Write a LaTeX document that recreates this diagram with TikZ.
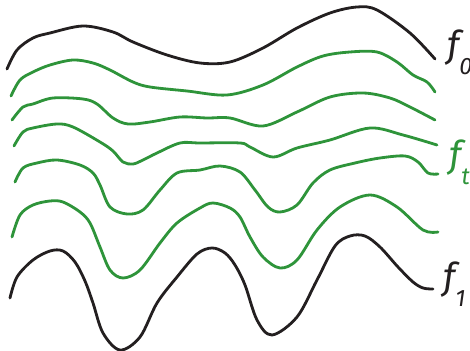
\documentclass[tikz,border=0pt]{standalone}
\usepackage{fontspec}
\setmainfont{Fira Sans}
\usepackage{tikz}
\definecolor{curvegreen}{RGB}{46,148,58}
\definecolor{curveblack}{RGB}{35,31,32}
\newcommand\fsub[1]{f\raisebox{-9.6pt}{\fontsize{13.5}{13.5}\selectfont #1}}

\begin{document}
\begin{tikzpicture}[
    x=0.02cm, y=-0.02cm,
    crv/.style={line width=1.6pt, line cap=round, line join=round},
    endcrv/.style={crv, draw=curveblack},
    midcrv/.style={crv, draw=curvegreen},
    lbl/.style={font=\fontsize{21}{21}\selectfont\itshape, inner sep=0pt, anchor=base west}
]
\useasboundingbox (0,0) rectangle (470,351);

% f_0
\draw[endcrv] plot[smooth, tension=0.55] coordinates {(7,69) (17,50) (33,38) (50,33) (83,26) (113,32) (133,42) (167,55) (200,63) (230,62) (263,48) (297,28) (330,13) (357,7) (377,10) (410,33) (435,59)};

% intermediate curves
\draw[midcrv] plot[smooth, tension=0.55] coordinates {(11,96) (20,80) (33,72) (50,65) (73,60) (93,63) (110,70) (133,82) (150,87) (187,91) (227,95) (263,85) (297,67) (323,56) (350,52) (377,52) (397,62) (413,75) (427,82) (435,92)};
\draw[midcrv] plot[smooth, tension=0.55] coordinates {(12,120) (23,107) (33,104) (53,98) (83,99) (97,104) (113,118) (128,124) (150,122) (180,117) (207,118) (230,118) (263,126) (297,112) (330,97) (363,93) (390,98) (410,107) (435,120)};
\draw[midcrv] plot[smooth, tension=0.55] coordinates {(14,146) (23,132) (33,128) (57,124) (73,127) (100,142) (113,151) (123,162) (133,164) (143,160) (157,153) (180,143) (200,143) (240,143) (250,147) (273,157) (297,148) (330,140) (370,128) (403,135) (437,145)};
\draw[midcrv] plot[smooth, tension=0.55] coordinates {(15,182) (23,168) (37,163) (57,160) (80,165) (93,173) (100,185) (110,207) (127,214) (143,210) (160,190) (177,173) (200,170) (220,166) (240,172) (255,190) (268,207) (280,212) (297,205) (313,183) (330,170) (355,163) (380,158) (405,156) (418,162) (428,173) (438,174)};
\draw[midcrv] plot[smooth, tension=0.55] coordinates {(12,237) (20,215) (33,205) (50,201) (63,202) (80,212) (90,223) (100,247) (110,270) (123,278) (140,270) (160,243) (177,223) (200,208) (213,203) (230,208) (240,217) (250,237) (263,257) (280,268) (297,260) (317,230) (340,207) (370,195) (397,207) (423,230) (438,232)};

% f_1
\draw[endcrv] plot[smooth, tension=0.55] coordinates {(10,298) (17,277) (33,260) (50,251) (63,251) (75,262) (85,281) (93,303) (103,333) (120,350) (140,337) (157,303) (177,277) (197,254) (212,248) (225,253) (235,265) (245,285) (257,320) (272,335) (297,317) (317,280) (335,246) (350,236) (365,236) (380,247) (398,267) (413,282) (423,288) (433,289)};

\node[lbl, text=curveblack] (fzero) at (447,58) {\fsub{0}};
\node[lbl, text=curvegreen] (ft) at (449,168) {\fsub{t}};
\node[lbl, text=curveblack] (fone) at (443,290) {\fsub{1}};
\end{tikzpicture}
\end{document}
